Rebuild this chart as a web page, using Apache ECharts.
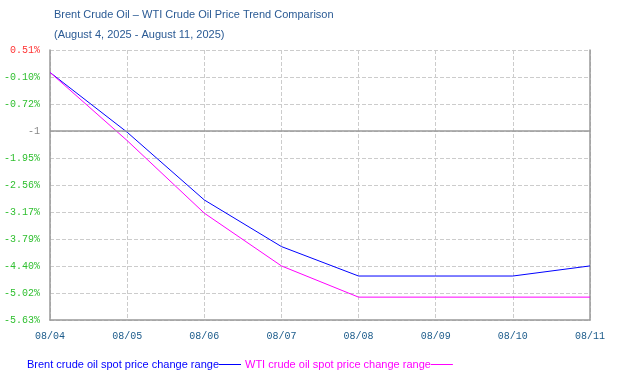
<!DOCTYPE html>
<html><head><meta charset="utf-8">
<script src="https://cdn.jsdelivr.net/npm/echarts@6/dist/echarts.min.js"></script>
<style>html,body{margin:0;padding:0;background:#fff}#c{width:620px;height:381px}</style>
</head><body><div id="c"></div>
<script>
var categories = ['08/04','08/05','08/06','08/07','08/08','08/09','08/10','08/11'];
var brent = [0, -1.36, -2.90, -3.96, -4.63, -4.63, -4.63, -4.40];
var wti = [0, -1.55, -3.20, -4.40, -5.11, -5.11, -5.11, -5.11];
var yTickLabels = ['-5.63%','-5.02%','-4.40%','-3.79%','-3.17%','-2.56%','-1.95%','-1','-0.72%','-0.10%','0.51%'];
var yMin = -5.63, yMax = 0.51, yStep = 0.614, midValue = -1.332;

function tickIndex(v){ return Math.round((v - yMin) / yStep); }

var chart = echarts.init(document.getElementById('c'), null, {renderer:'canvas'});
chart.setOption({
  animation:false,
  title:[
    {text:'Brent Crude Oil \u2013 WTI Crude Oil Price Trend Comparison', left:49, top:4,
     textStyle:{fontFamily:'Liberation Sans, Arial', fontSize:11, fontWeight:'normal', color:'#2a5a94'}},
    {text:'(August 4, 2025 - August 11, 2025)', left:49, top:24,
     textStyle:{fontFamily:'Liberation Sans, Arial', fontSize:11, fontWeight:'normal', color:'#2a5a94'}}
  ],
  legend:{
    left:22, top:354, align:'right', itemGap:4, itemWidth:22, itemHeight:1, icon:'rect',
    textStyle:{fontFamily:'Liberation Sans, Arial', fontSize:11, padding:[0,-5,0,0]},
    data:[{name:'Brent crude oil spot price change range', textStyle:{color:'#0000ff'}},
          {name:'WTI crude oil spot price change range', textStyle:{color:'#ff00ff'}}]
  },
  grid:{left:50, right:30, top:50, bottom:61},
  xAxis:{
    type:'category', data:categories, boundaryGap:false,
    axisLine:{onZero:false, lineStyle:{color:'#999', width:1.5}},
    axisTick:{show:false},
    axisLabel:{fontFamily:'Liberation Mono, monospace', fontSize:10, color:'#1a5a8a', margin:11},
    splitLine:{show:true, lineStyle:{color:'#ccc', type:'dashed'}}
  },
  yAxis:[{
    type:'value', min:yMin, max:yMax, interval:yStep,
    axisLine:{show:true, lineStyle:{color:'#999', width:1.5}},
    axisTick:{show:false},
    axisLabel:{fontFamily:'Liberation Mono, monospace', fontSize:10, margin:10,
      formatter:function(v){ return yTickLabels[tickIndex(v)] || ''; },
      color:function(v){ var i = tickIndex(v); return i===10 ? '#ff3333' : (i===7 ? '#888888' : '#2fbf2f'); }},
    splitLine:{show:true, lineStyle:{color:'#ccc', type:'dashed'}}
  },{
    type:'value', min:yMin, max:yMax, interval:yStep, position:'right',
    axisLine:{show:true, lineStyle:{color:'#999', width:1.5}},
    axisTick:{show:false}, axisLabel:{show:false}, splitLine:{show:false}
  }],
  series:[
    {name:'Brent crude oil spot price change range', type:'line', data:brent, showSymbol:false, symbol:'none',
     lineStyle:{color:'#0000ff', width:1}, itemStyle:{color:'#0000ff'},
     markLine:{silent:true, symbol:'none', label:{show:false},
       lineStyle:{color:'#999', type:'solid', width:1.5}, data:[{yAxis:midValue}]}},
    {name:'WTI crude oil spot price change range', type:'line', data:wti, showSymbol:false, symbol:'none',
     lineStyle:{color:'#ff00ff', width:1}, itemStyle:{color:'#ff00ff'}}
  ]
});
</script></body></html>
